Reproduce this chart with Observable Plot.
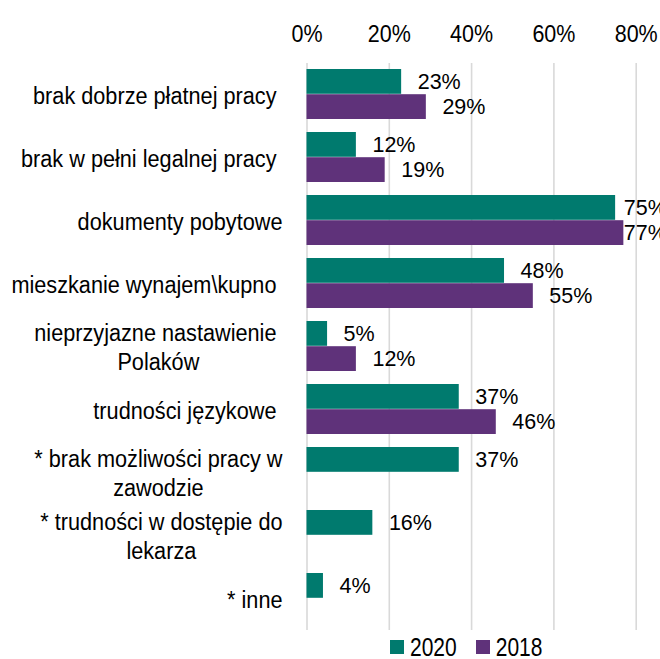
<!DOCTYPE html>
<html>
<head>
<meta charset="utf-8">
<script src="https://cdn.jsdelivr.net/npm/d3@7"></script>
<script src="https://cdn.jsdelivr.net/npm/@observablehq/plot@0.6"></script>
<style>
  html, body { margin: 0; padding: 0; background: #fff; overflow: hidden; }
  #chart svg text { white-space: pre; }
  #legend { height: 30px; display: flex; align-items: center; padding-left: 390px;
            font-family: "Liberation Sans", Arial, sans-serif; font-size: 21px; color: #000; }
  #legend .sw { width: 14px; height: 14px; margin-right: 6px; display: inline-block; }
  #legend .it { display: flex; align-items: center; margin-right: 19px; }
  #legend .tx { display: inline-block; transform: scaleY(1.22); }
</style>
</head>
<body>
<div id="chart"></div>
<div id="legend"></div>
<script>
const categories = [
  "brak dobrze płatnej pracy ",
  "brak w pełni legalnej pracy ",
  "dokumenty pobytowe",
  "mieszkanie wynajem\\kupno ",
  "nieprzyjazne nastawienie \nPolaków",
  "trudności językowe ",
  "* brak możliwości pracy w\nzawodzie",
  "* trudności w dostępie do\nlekarza",
  "* inne"
];
const values2020 = [23, 12, 75, 48, 5, 37, 37, 16, 4];
const values2018 = [29, 19, 77, 55, 12, 46, null, null, null];
const years = ["2020", "2018"];
const colors = ["#007A6E", "#5F327A"];
const xTicks = [0, 20, 40, 60, 80];

const font = "'Liberation Sans', Arial, sans-serif";
const d2020 = categories.map((c, i) => ({cat: c, v: values2020[i]})).filter(d => d.v != null);
const d2018 = categories.map((c, i) => ({cat: c, v: values2018[i]})).filter(d => d.v != null);
const half = 25.2;
const labelX = d => Math.min(d.v + 3.9, 77);

const chart = Plot.plot({
  width: 660,
  height: 632,
  marginLeft: 306.5,
  marginRight: 24.3,
  marginTop: 63,
  marginBottom: 2,
  style: {fontFamily: font, background: "#fff", color: "#000"},
  x: {domain: [0, 80]},
  y: {domain: categories, paddingInner: 0.2, paddingOuter: 0.1},
  marks: [
    Plot.gridX(xTicks, {stroke: "#d9d9d9", strokeOpacity: 1, strokeWidth: 1.6}),
    Plot.axisX({anchor: "top", ticks: xTicks, tickFormat: d => d + "%", tickSize: 0, tickPadding: 23,
                fontSize: 21.5, label: null, fill: "#000"}),
    Plot.axisY({tickSize: 0, tickPadding: 24.5, fontSize: 21.7, lineHeight: 1.2, label: null, fill: "#000"}),
    Plot.barX(d2020, {y: "cat", x: "v", fill: colors[0], insetBottom: half}),
    Plot.barX(d2018, {y: "cat", x: "v", fill: colors[1], insetTop: half}),
    Plot.text(d2020, {y: "cat", x: labelX, text: d => d.v + "%", dy: -half / 2, textAnchor: "start",
                      fontSize: 21.5, fill: "#000", ariaLabel: "vlabels"}),
    Plot.text(d2018, {y: "cat", x: labelX, text: d => d.v + "%", dy: half / 2, textAnchor: "start",
                      fontSize: 21.5, fill: "#000", ariaLabel: "vlabels"})
  ]
});
document.getElementById("chart").appendChild(chart);

// center wrapped lines of category labels on their widest line
chart.querySelectorAll('g[aria-label="y-axis tick label"] text').forEach(t => {
  const spans = t.querySelectorAll("tspan");
  if (spans.length > 1) {
    const w = Array.from(spans, s => s.getComputedTextLength());
    const W = Math.max(...w);
    spans.forEach((s, i) => s.setAttribute("x", -(W - w[i]) / 2));
  }
});

// the reference's typeface is taller than it is wide: stretch texts vertically about their centre
function stretch(selector, s) {
  chart.querySelectorAll(selector).forEach(t => {
    const g = document.createElementNS("http://www.w3.org/2000/svg", "g");
    t.parentNode.insertBefore(g, t);
    g.appendChild(t);
    const b = g.getBBox();
    const cy = b.y + b.height / 2;
    g.setAttribute("transform", `translate(0,${cy}) scale(1,${s}) translate(0,${-cy})`);
  });
}
stretch('g[aria-label="y-axis tick label"] text', 1.12);
stretch('g[aria-label="x-axis tick label"] text', 1.15);
stretch('g[aria-label="vlabels"] text', 1.3);

const legend = d3.select("#legend");
years.forEach((y, i) => {
  const it = legend.append("span").attr("class", "it");
  it.append("span").attr("class", "sw").style("background", colors[i]);
  it.append("span").attr("class", "tx").text(y);
});
</script>
</body>
</html>
